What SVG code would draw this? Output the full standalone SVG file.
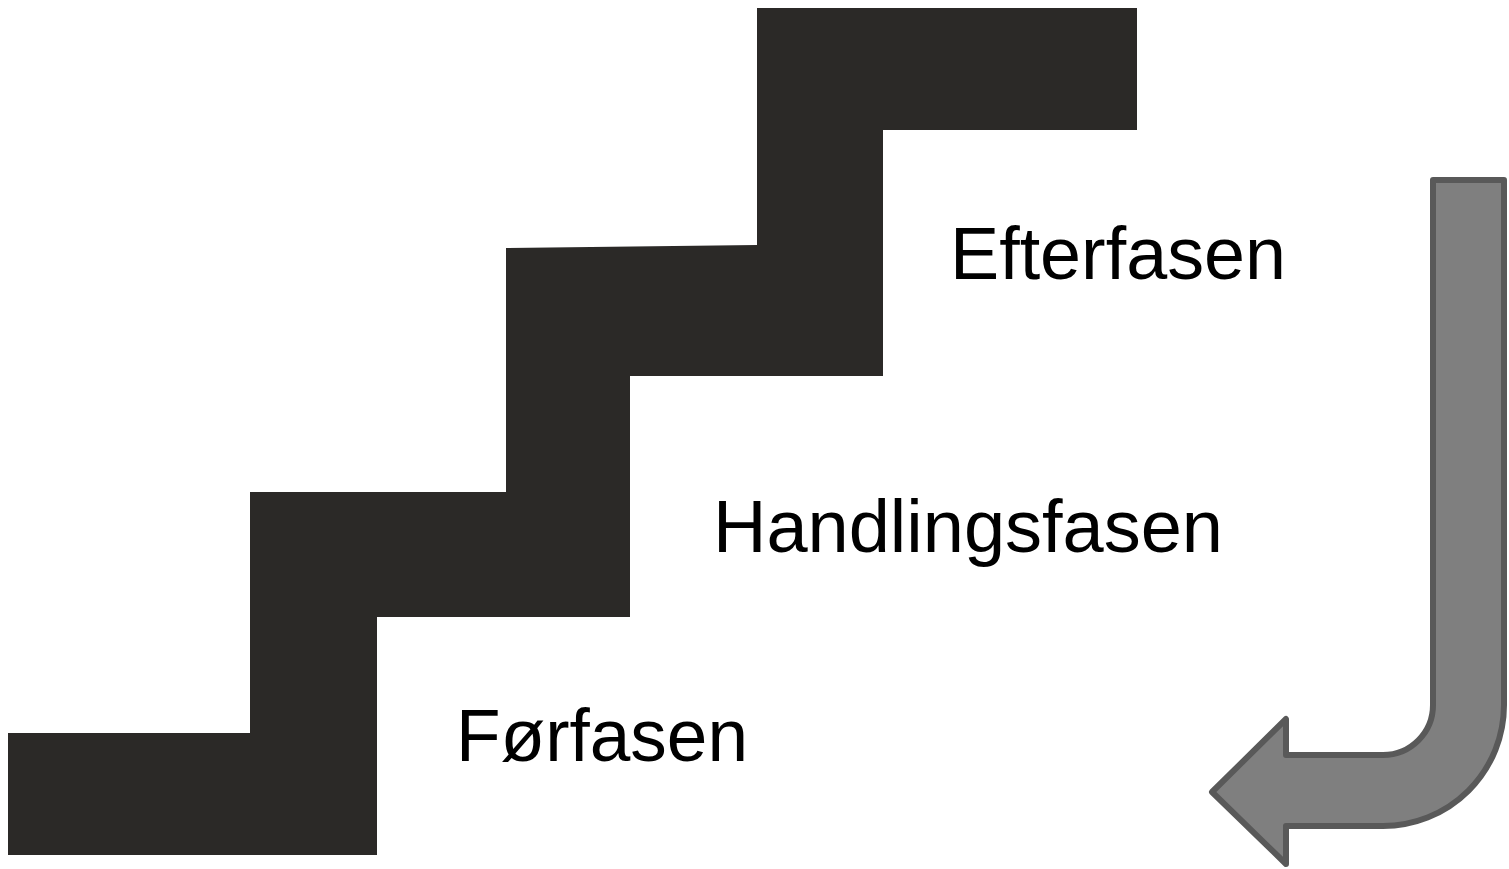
<svg xmlns="http://www.w3.org/2000/svg" width="1509" height="869" viewBox="0 0 1509 869">
<style>
.lbl{font-family:"Liberation Sans",Arial,sans-serif;font-size:74px;fill:#000}
.stair{fill:#2b2927}
.arrow{fill:#7f7f7f;stroke:#595959;stroke-width:6;stroke-linejoin:round}
</style>
<rect width="1509" height="869" fill="#fff"/>
<g id="stairs">
<polygon class="stair" points="8,733 250,733 250,492 506,492 506,248 757,245 757,8 1137,8 1137,130 883,130 883,376 630,376 630,617 377,617 377,855 8,855"/>
</g>
<g id="efterfasen"><text class="lbl" x="950" y="279" textLength="336" lengthAdjust="spacingAndGlyphs">Efterfasen</text></g>
<g id="handlingsfasen"><text class="lbl" x="713" y="552" textLength="510" lengthAdjust="spacingAndGlyphs">Handlingsfasen</text></g>
<g id="forfasen"><text class="lbl" x="456" y="761" textLength="292" lengthAdjust="spacingAndGlyphs">Førfasen</text></g>
<g id="connectors">
<path class="arrow" d="M1433,180 H1504 V705 A121,121 0 0 1 1383,826 H1286 V864 L1212,792 L1286,719 V755 H1383 A50,50 0 0 0 1433,705 Z"/>
</g>
</svg>
